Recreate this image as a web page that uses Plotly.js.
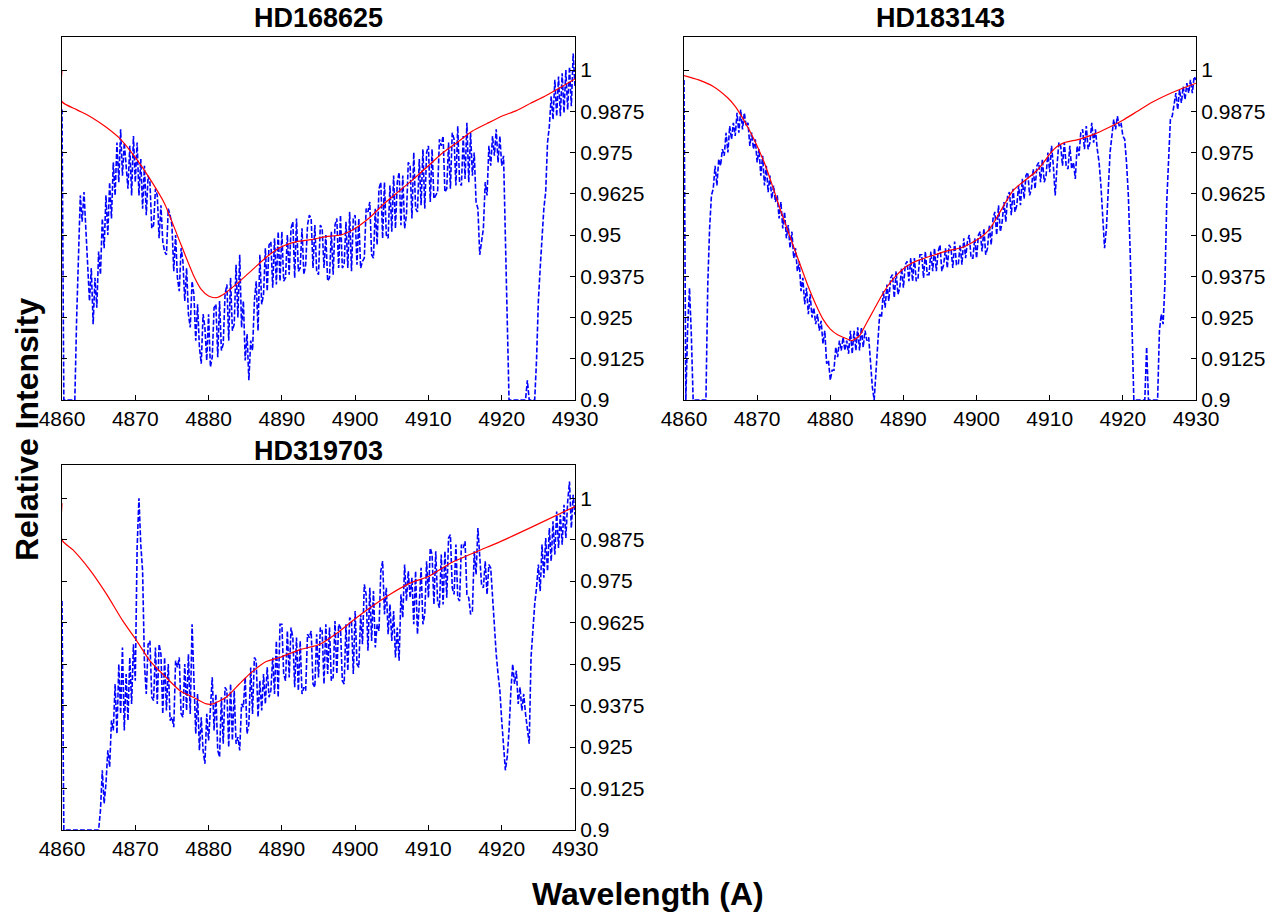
<!DOCTYPE html>
<html><head><meta charset="utf-8">
<script src="https://cdn.plot.ly/plotly-3.0.1.min.js"></script>
<style>html,body{margin:0;padding:0;background:#fff}#chart{width:1281px;height:917px}</style>
</head><body><div id="chart"></div><script>
// Wavelength sampling grid (Angstrom) for observed spectra
const wavelengthStart = 4860, wavelengthStep = 0.25;

const panelNames = ['HD168625', 'HD183143', 'HD319703'];

const hd168625Flux = [
0.988,0.900,0.900,0.900,
0.900,0.900,0.900,0.900,
0.925,0.945,0.962,0.954,
0.963,0.952,0.942,0.930,
0.940,0.923,0.937,0.928,
0.945,0.938,0.955,0.946,
0.962,0.950,0.966,0.955,
0.972,0.962,0.978,0.966,
0.982,0.968,0.978,0.970,
0.964,0.977,0.962,0.980,
0.966,0.978,0.962,0.973,
0.958,0.971,0.956,0.968,
0.966,0.952,0.953,0.964,
0.962,0.949,0.959,0.948,
0.945,0.944,0.958,0.956,
0.953,0.939,0.950,0.937,
0.933,0.946,0.942,0.930,
0.940,0.926,0.922,0.936,
0.932,0.918,0.929,0.916,
0.911,0.926,0.922,0.912,
0.926,0.910,0.913,0.928,
0.929,0.913,0.930,0.915,
0.917,0.932,0.935,0.918,
0.937,0.921,0.923,0.941,
0.925,0.944,0.922,0.930,
0.912,0.920,0.906,0.918,
0.915,0.930,0.936,0.921,
0.944,0.929,0.932,0.946,
0.933,0.947,0.948,0.934,
0.949,0.935,0.951,0.936,
0.951,0.936,0.937,0.950,
0.938,0.952,0.954,0.937,
0.955,0.939,0.940,0.952,
0.938,0.941,0.953,0.956,
0.955,0.940,0.953,0.939,
0.938,0.953,0.952,0.940,
0.950,0.936,0.937,0.951,
0.938,0.953,0.955,0.940,
0.956,0.940,0.941,0.954,
0.940,0.957,0.939,0.955,
0.956,0.941,0.955,0.940,
0.942,0.943,0.958,0.957,
0.960,0.944,0.943,0.958,
0.947,0.964,0.966,0.949,
0.966,0.950,0.949,0.965,
0.951,0.968,0.952,0.966,
0.969,0.953,0.968,0.952,
0.956,0.972,0.971,0.955,
0.975,0.958,0.957,0.973,
0.959,0.976,0.958,0.975,
0.977,0.960,0.976,0.961,
0.962,0.963,0.979,0.977,
0.980,0.963,0.964,0.978,
0.964,0.981,0.979,0.965,
0.983,0.966,0.965,0.980,
0.967,0.984,0.966,0.981,
0.968,0.975,0.960,0.958,
0.944,0.948,0.952,0.966,
0.962,0.977,0.971,0.980,
0.974,0.982,0.972,0.980,
0.971,0.974,0.950,0.920,
0.900,0.900,0.900,0.900,
0.900,0.900,0.900,0.900,
0.900,0.900,0.906,0.900,
0.900,0.900,0.900,0.912,
0.930,0.940,0.950,0.958,
0.963,0.978,0.983,0.992,
0.985,0.997,0.986,0.998,
0.986,0.999,0.987,1.000,
0.988,1.001,0.989,1.005,
0.995];

const hd183143Flux = [
0.997,0.900,0.922,0.934,
0.920,0.900,0.900,0.900,
0.900,0.900,0.900,0.900,
0.900,0.935,0.952,0.962,
0.964,0.971,0.965,0.973,
0.971,0.976,0.974,0.981,
0.975,0.983,0.979,0.984,
0.980,0.987,0.981,0.988,
0.982,0.987,0.983,0.984,
0.977,0.981,0.976,0.979,
0.972,0.976,0.968,0.974,
0.965,0.971,0.963,0.968,
0.961,0.965,0.960,0.962,
0.955,0.960,0.952,0.957,
0.949,0.953,0.946,0.951,
0.943,0.946,0.939,0.942,
0.933,0.937,0.929,0.934,
0.926,0.932,0.925,0.928,
0.923,0.926,0.921,0.924,
0.917,0.921,0.911,0.912,
0.906,0.909,0.909,0.916,
0.913,0.918,0.915,0.919,
0.915,0.918,0.914,0.921,
0.914,0.921,0.915,0.922,
0.915,0.922,0.916,0.921,
0.918,0.919,0.910,0.904,
0.900,0.908,0.918,0.926,
0.925,0.933,0.928,0.935,
0.930,0.937,0.938,0.931,
0.939,0.932,0.934,0.940,
0.934,0.941,0.942,0.936,
0.943,0.936,0.943,0.936,
0.937,0.944,0.944,0.937,
0.945,0.938,0.938,0.945,
0.939,0.946,0.939,0.945,
0.947,0.939,0.941,0.946,
0.940,0.947,0.946,0.940,
0.948,0.941,0.941,0.947,
0.941,0.949,0.943,0.948,
0.950,0.943,0.943,0.949,
0.943,0.950,0.951,0.945,
0.952,0.944,0.946,0.953,
0.947,0.955,0.957,0.950,
0.959,0.951,0.954,0.960,
0.954,0.962,0.963,0.956,
0.964,0.957,0.959,0.965,
0.959,0.967,0.961,0.968,
0.969,0.962,0.964,0.970,
0.964,0.971,0.972,0.966,
0.973,0.966,0.968,0.975,
0.969,0.977,0.971,0.962,
0.971,0.978,0.977,0.971,
0.978,0.971,0.970,0.977,
0.970,0.972,0.967,0.977,
0.974,0.981,0.982,0.976,
0.983,0.976,0.978,0.984,
0.978,0.982,0.976,0.972,
0.965,0.955,0.946,0.952,
0.964,0.975,0.980,0.985,
0.982,0.986,0.983,0.984,
0.980,0.979,0.972,0.962,
0.945,0.920,0.900,0.900,
0.900,0.900,0.900,0.900,
0.900,0.916,0.900,0.900,
0.900,0.900,0.900,0.900,
0.921,0.926,0.923,0.935,
0.960,0.975,0.985,0.986,
0.989,0.993,0.988,0.994,
0.990,0.995,0.991,0.996,
0.993,0.997,0.993,0.998,
0.997];

const hd319703Flux = [
0.969,0.900,0.900,0.900,
0.900,0.900,0.900,0.900,
0.900,0.900,0.900,0.900,
0.900,0.900,0.900,0.900,
0.900,0.900,0.900,0.900,
0.900,0.906,0.918,0.908,
0.914,0.924,0.919,0.933,
0.930,0.944,0.929,0.950,
0.935,0.955,0.930,0.947,
0.933,0.952,0.938,0.956,
0.945,0.985,1.000,0.986,
0.978,0.950,0.941,0.956,
0.957,0.940,0.939,0.955,
0.938,0.956,0.953,0.935,
0.952,0.936,0.950,0.933,
0.934,0.931,0.951,0.949,
0.952,0.935,0.934,0.950,
0.936,0.953,0.935,0.962,
0.944,0.929,0.941,0.924,
0.934,0.924,0.920,0.935,
0.927,0.937,0.946,0.930,
0.941,0.924,0.922,0.940,
0.926,0.943,0.942,0.925,
0.944,0.927,0.942,0.926,
0.928,0.924,0.938,0.937,
0.946,0.929,0.932,0.949,
0.935,0.952,0.951,0.934,
0.945,0.936,0.947,0.938,
0.949,0.940,0.942,0.952,
0.941,0.957,0.940,0.962,
0.962,0.947,0.945,0.960,
0.946,0.961,0.958,0.943,
0.958,0.942,0.957,0.941,
0.943,0.942,0.959,0.958,
0.960,0.944,0.943,0.959,
0.946,0.961,0.960,0.944,
0.962,0.947,0.961,0.945,
0.946,0.963,0.947,0.962,
0.961,0.945,0.944,0.962,
0.948,0.964,0.963,0.947,
0.966,0.950,0.949,0.965,
0.956,0.974,0.971,0.954,
0.973,0.957,0.972,0.955,
0.962,0.960,0.978,0.981,
0.965,0.973,0.959,0.968,
0.957,0.966,0.952,0.961,
0.951,0.971,0.964,0.980,
0.969,0.978,0.970,0.976,
0.962,0.978,0.959,0.968,
0.979,0.962,0.965,0.981,
0.970,0.985,0.983,0.968,
0.984,0.969,0.967,0.983,
0.968,0.984,0.970,0.988,
0.989,0.973,0.971,0.986,
0.970,0.969,0.986,0.985,
0.987,0.971,0.970,0.965,
0.966,0.984,0.977,0.991,
0.983,0.974,0.973,0.981,
0.971,0.980,0.979,0.970,
0.964,0.953,0.947,0.942,
0.933,0.926,0.918,0.922,
0.930,0.942,0.950,0.944,
0.948,0.938,0.943,0.936,
0.941,0.935,0.930,0.926,
0.952,0.961,0.968,0.973,
0.980,0.972,0.986,0.976,
0.988,0.978,0.991,0.981,
0.993,0.983,0.996,0.985,
0.995,0.986,0.998,0.988,
0.999,1.005,0.991,1.001,
0.995];

// Fitted model curves (red)
const hd168625FitWl  = [4860,4860,4862,4864,4866,4868,4870,4872,4874,4876,4878,4879,4880,4881,4882,4884,4886,4888,4890,4892,4894,4896,4898,4900,4902,4904,4906,4908,4910,4912,4914,4916,4918,4920,4922,4924,4926,4928,4930];
const hd168625FitVal = [1.000,0.9904,0.988,0.9857,0.9827,0.979,0.9735,0.967,0.9595,0.9484,0.9375,0.9335,0.9315,0.931,0.932,0.9355,0.9395,0.9435,0.9465,0.948,0.9486,0.9495,0.950,0.952,0.9553,0.9596,0.9633,0.967,0.971,0.975,0.9782,0.9815,0.9838,0.986,0.9877,0.990,0.9922,0.9947,0.9973];

const hd183143FitWl  = [4860,4862,4864,4866,4867,4868,4869,4870,4871,4872,4873,4874,4875,4876,4877,4878,4879,4880,4881,4882,4883,4884,4885,4886,4887,4888,4889,4890,4891,4892,4894,4896,4898,4900,4901,4902,4903,4904,4905,4906,4907,4908,4909,4910,4911,4912,4914,4916,4918,4920,4922,4924,4926,4928,4930];
const hd183143FitVal = [0.9983,0.997,0.995,0.9915,0.989,0.9855,0.9815,0.977,0.9718,0.9655,0.9588,0.9525,0.9464,0.9403,0.9343,0.929,0.9245,0.9215,0.9198,0.9188,0.918,0.9195,0.9235,0.9275,0.9315,0.935,0.9377,0.9398,0.9413,0.9423,0.9438,0.9452,0.9462,0.9485,0.950,0.9525,0.9562,0.960,0.9635,0.9655,0.9672,0.969,0.9715,0.9745,0.9768,0.978,0.979,0.9805,0.9825,0.9848,0.9875,0.9902,0.9924,0.9943,0.996];

const hd319703FitWl  = [4860,4860,4861.5,4863.8,4866.1,4868.3,4870.2,4872,4874.2,4876.1,4877.9,4879.7,4880.6,4882.4,4884.2,4885.6,4887.8,4889.7,4892.4,4895.2,4897.5,4899.8,4901.6,4904.3,4907.5,4910,4913,4916.6,4919.8,4924.3,4930];
const hd319703FitVal = [0.9985,0.9874,0.9844,0.9784,0.971,0.963,0.957,0.951,0.946,0.942,0.940,0.938,0.938,0.940,0.944,0.947,0.9507,0.952,0.9543,0.956,0.9593,0.9633,0.9663,0.9704,0.9744,0.9764,0.9804,0.9839,0.9869,0.9915,0.9975];

// Axis ticks
const xTickVals = [4860,4870,4880,4890,4900,4910,4920,4930];
const yTickVals = [0.9,0.9125,0.925,0.9375,0.95,0.9625,0.975,0.9875,1];
const yTickText = ['0.9','0.9125','0.925','0.9375','0.95','0.9625','0.975','0.9875','1'];

const fluxSets = [hd168625Flux, hd183143Flux, hd319703Flux];
const fitSets = [[hd168625FitWl, hd168625FitVal],[hd183143FitWl, hd183143FitVal],[hd319703FitWl, hd319703FitVal]];

function grid(n){ const a=[]; for(let i=0;i<n;i++) a.push(wavelengthStart + i*wavelengthStep); return a; }

const W = 1281, H = 917;
const boxes = [ // pixel boxes: left, right, top, bottom
  [62, 575, 37, 400],
  [684, 1196, 37, 400],
  [62, 575, 465, 830]
];
const titleCenters = [18, 18, 451];

const FONT = 'Liberation Sans, Arial, Helvetica, sans-serif';
const traces = [];
const layout = {
  width: W, height: H,
  margin: {l:0, r:0, t:0, b:0},
  paper_bgcolor: '#ffffff', plot_bgcolor: '#ffffff',
  showlegend: false,
  font: {family: FONT, color: '#000', size: 21},
  annotations: []
};

boxes.forEach((b, i) => {
  const sfx = i === 0 ? '' : String(i+1);
  const xa = 'x' + sfx, ya = 'y' + sfx;
  traces.push({
    x: grid(fluxSets[i].length), y: fluxSets[i], xaxis: xa, yaxis: ya,
    type: 'scatter', mode: 'lines',
    line: {color: 'rgb(0,0,255)', width: 1.6, dash: '5px,2px'},
    hoverinfo: 'skip'
  });
  traces.push({
    x: fitSets[i][0], y: fitSets[i][1], xaxis: xa, yaxis: ya,
    type: 'scatter', mode: 'lines',
    line: {color: 'rgb(255,0,0)', width: 1.2, shape: 'spline', smoothing: 0.6},
    hoverinfo: 'skip'
  });
  layout['xaxis' + sfx] = {
    domain: [b[0]/W, b[1]/W], anchor: ya, range: [4860, 4930],
    tickvals: xTickVals, ticks: 'inside', ticklen: 5, tickcolor: '#000',
    showline: true, mirror: true, linecolor: '#000', linewidth: 1,
    showgrid: false, zeroline: false, tickfont: {size: 21, family: FONT}
  };
  layout['yaxis' + sfx] = {
    domain: [1 - b[3]/H, 1 - b[2]/H], anchor: xa, range: [0.9, 1.01], side: 'right',
    tickvals: yTickVals, ticktext: yTickText, ticks: 'inside', ticklen: 5, tickcolor: '#000',
    showline: true, mirror: 'ticks', linecolor: '#000', linewidth: 1,
    showgrid: false, zeroline: false, tickfont: {size: 21, family: FONT}
  };
  layout.annotations.push({
    text: '<b>' + panelNames[i] + '</b>', xref: 'paper', yref: 'paper',
    x: (b[0]+b[1])/2/W, y: 1 - titleCenters[i]/H, xanchor: 'center', yanchor: 'middle',
    showarrow: false, font: {size: 27, family: FONT, color: '#000'}
  });
});

layout.annotations.push({
  text: '<b>Relative Intensity</b>', xref: 'paper', yref: 'paper',
  x: 27/W, y: 1 - 430/H, xanchor: 'center', yanchor: 'middle', textangle: -90,
  showarrow: false, font: {size: 32, family: FONT, color: '#000'}
});
layout.annotations.push({
  text: '<b>Wavelength (A)</b>', xref: 'paper', yref: 'paper',
  x: 648/W, y: 1 - 894/H, xanchor: 'center', yanchor: 'middle',
  showarrow: false, font: {size: 32, family: FONT, color: '#000'}
});

Plotly.newPlot('chart', traces, layout, {staticPlot: true});
</script></body></html>
